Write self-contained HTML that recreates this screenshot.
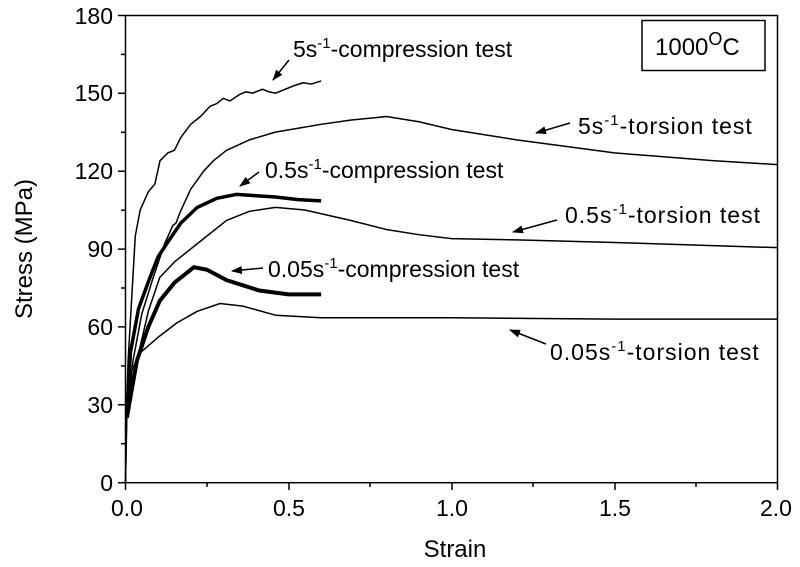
<!DOCTYPE html>
<html><head><style>body{margin:0;background:#fff}svg{display:block}text{font-family:"Liberation Sans",Arial,sans-serif;fill:#000}</style></head><body>
<svg width="800" height="567" viewBox="0 0 800 567" xmlns="http://www.w3.org/2000/svg">
<defs><marker id="ah" markerWidth="11" markerHeight="8" refX="10" refY="4" orient="auto" markerUnits="userSpaceOnUse"><path d="M0,0 L11,4 L0,8 Z" fill="#000"/></marker></defs>
<rect x="125.5" y="15.5" width="652" height="467.2" fill="none" stroke="#000" stroke-width="1.5"/>
<g stroke="#000" stroke-width="1.5">
<line x1="125.5" y1="482.7" x2="125.5" y2="490"/><line x1="207" y1="482.7" x2="207" y2="487"/>
<line x1="289" y1="482.7" x2="289" y2="490"/><line x1="370" y1="482.7" x2="370" y2="487"/>
<line x1="452" y1="482.7" x2="452" y2="490"/><line x1="533" y1="482.7" x2="533" y2="487"/>
<line x1="615" y1="482.7" x2="615" y2="490"/><line x1="696" y1="482.7" x2="696" y2="487"/>
<line x1="777.5" y1="482.7" x2="777.5" y2="490"/>
<line x1="118" y1="482.7" x2="125.5" y2="482.7"/><line x1="121" y1="443.7" x2="125.5" y2="443.7"/>
<line x1="118" y1="404.8" x2="125.5" y2="404.8"/><line x1="121" y1="365.9" x2="125.5" y2="365.9"/>
<line x1="118" y1="326.9" x2="125.5" y2="326.9"/><line x1="121" y1="288" x2="125.5" y2="288"/>
<line x1="118" y1="249.1" x2="125.5" y2="249.1"/><line x1="121" y1="210.2" x2="125.5" y2="210.2"/>
<line x1="118" y1="171.2" x2="125.5" y2="171.2"/><line x1="121" y1="132.3" x2="125.5" y2="132.3"/>
<line x1="118" y1="93.3" x2="125.5" y2="93.3"/><line x1="121" y1="54.4" x2="125.5" y2="54.4"/>
<line x1="118" y1="15.5" x2="125.5" y2="15.5"/>
</g>
<g font-size="23" text-anchor="end">
<text x="113" y="491">0</text><text x="113" y="413">30</text><text x="113" y="335">60</text>
<text x="113" y="257">90</text><text x="113" y="179">120</text><text x="113" y="101">150</text><text x="113" y="24">180</text>
</g>
<g font-size="23" text-anchor="middle">
<text x="127" y="516">0.0</text><text x="289" y="516">0.5</text><text x="452" y="516">1.0</text>
<text x="615" y="516">1.5</text><text x="776" y="516">2.0</text>
<text x="455" y="557" font-size="24">Strain</text>
<text transform="translate(32,249) rotate(-90)" font-size="24">Stress (MPa)</text>
</g>
<g transform="translate(125.5,482.7) scale(326,-2.597)" fill="none" stroke="#000" stroke-linejoin="round">
<polyline vector-effect="non-scaling-stroke" stroke-width="1.5" points="0,0 0.004,30 0.008,47 0.03,95 0.045,105 0.07,112 0.09,115 0.106,124 0.13,127 0.15,128 0.17,133 0.2,138 0.22,140 0.23,141 0.26,145 0.28,146 0.3,148 0.32,147 0.35,149.5 0.37,150.5 0.39,150 0.42,151.5 0.44,150.5 0.46,150 0.49,151.5 0.52,153 0.545,154 0.57,153.5 0.6,154.7"/>
<polyline vector-effect="non-scaling-stroke" stroke-width="1.5" points="0.004,25 0.023,47 0.05,65 0.085,79 0.12,92 0.145,99 0.155,100 0.167,104 0.2,113 0.24,120 0.27,124 0.31,128 0.38,132 0.46,135 0.6,138 0.69,139.6 0.8,141 0.9,139 1.0,136 1.2,132 1.5,127 1.8,124 2.0,122.5"/>
<polyline vector-effect="non-scaling-stroke" stroke-width="3.5" points="0.004,25 0.015,50 0.04,67 0.075,79 0.1,87 0.137,94 0.17,100 0.22,106 0.28,109.5 0.34,111 0.4,110.5 0.46,110 0.53,109 0.6,108.5"/>
<polyline vector-effect="non-scaling-stroke" stroke-width="1.5" points="0.004,25 0.035,47 0.07,66 0.105,79 0.15,85 0.21,91 0.26,96 0.31,101 0.38,104.5 0.46,106 0.55,105 0.69,101 0.8,97.5 0.9,95.5 1.0,94 1.2,93.5 1.5,92.5 2.0,90.5"/>
<polyline vector-effect="non-scaling-stroke" stroke-width="4" points="0.004,25 0.035,47 0.07,60 0.105,70 0.15,77 0.21,83 0.25,82 0.31,78 0.36,76 0.41,74 0.5,72.5 0.6,72.5"/>
<polyline vector-effect="non-scaling-stroke" stroke-width="1.5" points="0,0 0.004,25 0.015,42 0.045,50 0.1,56 0.157,61.5 0.22,66 0.29,69 0.36,68 0.46,64.5 0.6,63.5 1.0,63.5 1.5,63 2.0,63"/>
</g>
<g stroke="#000" stroke-width="1.5" marker-end="url(#ah)">
<line x1="289" y1="60" x2="273" y2="80"/>
<line x1="570" y1="123" x2="536" y2="133"/>
<line x1="259" y1="172" x2="240" y2="186"/>
<line x1="557" y1="220" x2="513" y2="232"/>
<line x1="263" y1="268" x2="232" y2="271"/>
<line x1="546" y1="344" x2="510" y2="330"/>
</g>
<g font-size="23">
<text x="293" y="57">5s<tspan font-size="15" dy="-9">-1</tspan><tspan dy="9">-compression test</tspan></text>
<text x="578" y="134" letter-spacing="1">5s<tspan font-size="15" dy="-9">-1</tspan><tspan dy="9">-torsion test</tspan></text>
<text x="265" y="178">0.5s<tspan font-size="15" dy="-9">-1</tspan><tspan dy="9">-compression test</tspan></text>
<text x="565" y="223" letter-spacing="1">0.5s<tspan font-size="15" dy="-9">-1</tspan><tspan dy="9">-torsion test</tspan></text>
<text x="268" y="277">0.05s<tspan font-size="15" dy="-9">-1</tspan><tspan dy="9">-compression test</tspan></text>
<text x="550" y="360" letter-spacing="1">0.05s<tspan font-size="15" dy="-9">-1</tspan><tspan dy="9">-torsion test</tspan></text>
</g>
<rect x="642" y="20.5" width="123" height="50" fill="none" stroke="#000" stroke-width="1.5"/>
<text x="655" y="55" font-size="24">1000<tspan font-size="18" dy="-10">O</tspan><tspan dy="10">C</tspan></text>
</svg>
</body></html>
